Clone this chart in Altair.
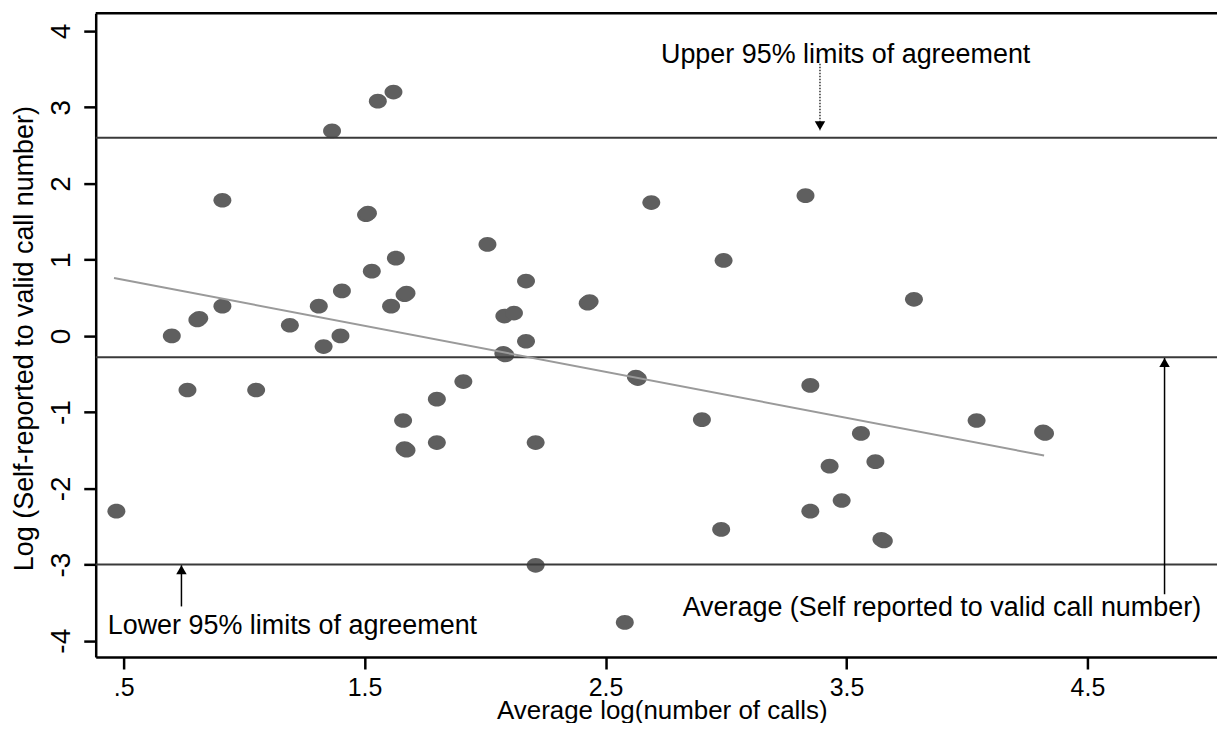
import altair as alt
import pandas as pd

# ---- data ----
avg_log_calls = [0.47, 0.70, 0.765, 0.806, 0.814, 0.91, 0.91, 1.05, 1.19, 1.31,
                 1.33, 1.365, 1.40, 1.406, 1.506, 1.514, 1.53, 1.555, 1.61, 1.62,
                 1.63, 1.66, 1.666, 1.674, 1.666, 1.674, 1.80, 1.80, 1.91, 2.01,
                 2.08, 2.12, 2.076, 2.084, 2.17, 2.17, 2.21, 2.21, 2.426, 2.434,
                 2.58, 2.626, 2.634, 2.69, 2.90, 2.98, 2.99, 3.33, 3.35, 3.35,
                 3.43, 3.48, 3.56, 3.62, 3.645, 3.655, 3.78, 4.04, 4.316, 4.324]
log_ratio = [-2.30, 0.00, -0.71, 0.21, 0.23, 1.78, 0.39, -0.71, 0.14, 0.39,
             -0.14, 2.69, 0.00, 0.59, 1.59, 1.61, 0.85, 3.08, 0.39, 3.20,
             1.02, -1.11, 0.54, 0.56, -1.48, -1.50, -0.83, -1.40, -0.60, 1.20,
             0.26, 0.30, -0.23, -0.25, 0.72, -0.07, -1.40, -3.01, 0.43, 0.45,
             -3.76, -0.54, -0.56, 1.75, -1.10, -2.54, 0.99, 1.84, -0.65, -2.30,
             -1.71, -2.16, -1.28, -1.65, -2.67, -2.69, 0.48, -1.11, -1.26, -1.28]

limit_names = ["Upper 95% limit", "Average", "Lower 95% limit"]
limit_values = [2.60, -0.28, -3.00]

fit_x = [0.46, 4.32]
fit_y = [0.76, -1.57]

annot_text = ["Upper 95% limits of agreement",
              "Lower 95% limits of agreement",
              "Average (Self reported to valid call number)"]
annot_x = [2.73, 0.434, 2.82]
annot_y = [3.58, -3.91, -3.68]

arrow_x = [3.39, 0.74, 4.82]
arrow_from = [3.57, -3.55, -3.39]
arrow_to = [2.70, -3.01, -0.29]
arrow_dir = ["down", "up", "up"]
arrow_style = ["dotted", "solid", "solid"]

x_tick_values = [0.5, 1.5, 2.5, 3.5, 4.5]
x_tick_labels = [".5", "1.5", "2.5", "3.5", "4.5"]
y_tick_values = [-4, -3, -2, -1, 0, 1, 2, 3, 4]

x_domain = [0.3842, 5.0377]
y_domain = [-4.214, 4.235]

# ---- tables ----
pts = pd.DataFrame({"x": avg_log_calls, "y": log_ratio})
lims = pd.DataFrame({"name": limit_names, "y": limit_values})
frame_top = pd.DataFrame({"y": [y_domain[1]]})
fit = pd.DataFrame({"x": fit_x, "y": fit_y})
ann = pd.DataFrame({"text": annot_text, "x": annot_x, "y": annot_y})
arr = pd.DataFrame({"x": arrow_x, "y0": arrow_from, "y1": arrow_to,
                    "dir": arrow_dir, "style": arrow_style})

FONT = "Liberation Sans"
xs = alt.Scale(domain=x_domain, nice=False, zero=False)
ys = alt.Scale(domain=y_domain, nice=False, zero=False)

label_expr = " : ".join(
    f"datum.value == {v} ? '{t}'" for v, t in zip(x_tick_values, x_tick_labels)
) + " : ''"

x_axis = alt.Axis(
    orient="bottom", values=x_tick_values, labelExpr=label_expr,
    title="Average log(number of calls)", grid=False,
    domainColor="black", domainWidth=2.5, tickColor="black", tickWidth=2.5,
    tickSize=12, labelFont=FONT, labelFontSize=25, labelColor="black",
    labelPadding=7, labelFlush=False, labelOverlap=False,
    titleFont=FONT, titleFontSize=26, titleFontWeight="normal", titleColor="black",
    titleX=568, titleY=62, titleAlign="center", titleBaseline="alphabetic",
)
y_axis = alt.Axis(
    orient="left", values=y_tick_values, labelExpr="toString(datum.value)",
    grid=False, title="Log (Self-reported to valid call number)",
    domainColor="black", domainWidth=2.5, tickColor="black", tickWidth=2.5,
    tickSize=12, labelFont=FONT, labelFontSize=28, labelColor="black",
    labelAngle=270, labelAlign="center", labelBaseline="alphabetic",
    labelPadding=14, labelOverlap=False, labelFlush=False,
    titleFont=FONT, titleFontSize=27, titleFontWeight="normal", titleColor="black",
    titleAngle=270, titleX=-63, titleY=326, titleAlign="center",
    titleBaseline="alphabetic",
)

ELLIPSE = "M -1 0 A 1 0.82 0 1 0 1 0 A 1 0.82 0 1 0 -1 0 Z"

points = alt.Chart(pts).mark_point(
    shape=ELLIPSE, filled=True, size=324, color="#5f5f5f", opacity=1, strokeWidth=0
).encode(
    x=alt.X("x:Q", scale=xs, axis=x_axis),
    y=alt.Y("y:Q", scale=ys, axis=y_axis),
)

top_line = alt.Chart(frame_top).mark_rule(color="black", strokeWidth=2.5).encode(
    y=alt.Y("y:Q", scale=ys),
)

hlines = alt.Chart(lims).mark_rule(color="#3a3a3a", strokeWidth=2).encode(
    y=alt.Y("y:Q", scale=ys),
)

fit_line = alt.Chart(fit).mark_line(color="#9a9a9a", strokeWidth=2).encode(
    x=alt.X("x:Q", scale=xs),
    y=alt.Y("y:Q", scale=ys),
)

arrow_dotted = alt.Chart(arr).transform_filter(
    alt.datum.style == "dotted"
).mark_rule(color="black", strokeWidth=1.2, strokeDash=[1.5, 1.5]).encode(
    x=alt.X("x:Q", scale=xs),
    y=alt.Y("y0:Q", scale=ys),
    y2="y1:Q",
)
arrow_solid = alt.Chart(arr).transform_filter(
    alt.datum.style == "solid"
).mark_rule(color="black", strokeWidth=1.5).encode(
    x=alt.X("x:Q", scale=xs),
    y=alt.Y("y0:Q", scale=ys),
    y2="y1:Q",
)
head_down = alt.Chart(arr).transform_filter(
    alt.datum.dir == "down"
).mark_point(shape="triangle-down", filled=True, size=110, color="black",
             opacity=1, strokeWidth=0).encode(
    x=alt.X("x:Q", scale=xs),
    y=alt.Y("y1:Q", scale=ys),
    yOffset=alt.value(-4.5),
)
head_up = alt.Chart(arr).transform_filter(
    alt.datum.dir == "up"
).mark_point(shape="triangle-up", filled=True, size=110, color="black",
             opacity=1, strokeWidth=0).encode(
    x=alt.X("x:Q", scale=xs),
    y=alt.Y("y1:Q", scale=ys),
    yOffset=alt.value(4.5),
)

labels = alt.Chart(ann).mark_text(
    align="left", baseline="alphabetic", font=FONT, fontSize=27, color="black"
).encode(
    x=alt.X("x:Q", scale=xs),
    y=alt.Y("y:Q", scale=ys),
    text="text:N",
)

chart = alt.layer(
    points, top_line, hlines, fit_line, arrow_dotted, arrow_solid,
    head_down, head_up, labels
).properties(
    width=1125, height=646,
    autosize=alt.AutoSizeParams(type="none"),
    padding={"left": 88, "top": 4, "right": 0, "bottom": 65},
).configure_view(stroke=None)

chart.save("out.html", embed_options={"renderer": "svg", "actions": False})
